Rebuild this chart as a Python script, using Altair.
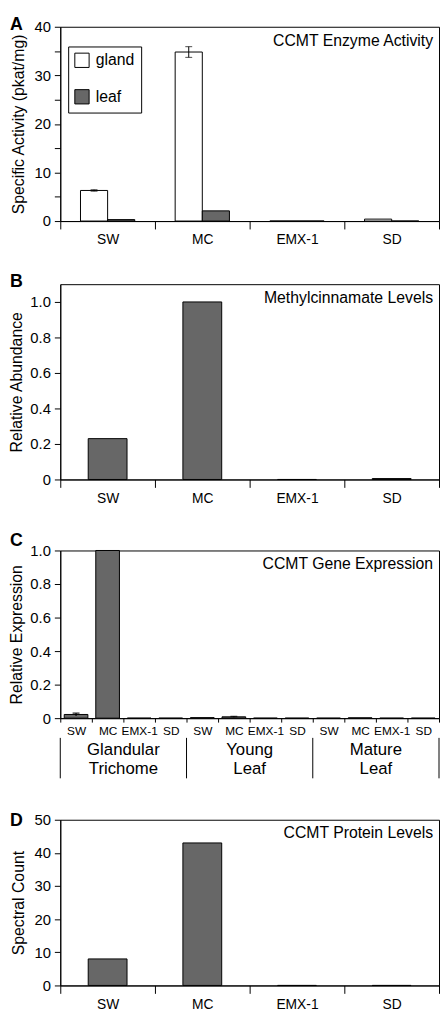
import altair as alt
import pandas as pd

FONT = "Liberation Sans"
W = 384

# ---------------- data ----------------
cats = ["SW", "MC", "EMX-1", "SD"]
tissues = ["gland", "leaf"]

# Panel A: CCMT enzyme activity (pkat/mg)
act_gland = [6.3, 34.8, 0.0, 0.4]
act_leaf = [0.3, 2.1, 0.0, 0.0]
act_gland_err = [0.15, 1.1, 0.0, 0.0]
act_leaf_err = [0.0, 0.0, 0.0, 0.0]

# Panel B: methylcinnamate levels (relative abundance)
mc_levels = [0.23, 1.0, 0.0, 0.005]

# Panel C: CCMT gene expression
group_keys = ["GT", "YL", "ML"]
group_labels = ["Glandular\nTrichome", "Young\nLeaf", "Mature\nLeaf"]
expr_vals = [
    [0.022, 1.0, 0.0, 0.0],
    [0.003, 0.008, 0.0, 0.0],
    [0.0, 0.002, 0.0, 0.0],
]
expr_err = [
    [0.008, 0.0, 0.0, 0.0],
    [0.0, 0.002, 0.0, 0.0],
    [0.0, 0.0, 0.0, 0.0],
]

# Panel D: CCMT protein levels (spectral count)
protein = [8, 43, 0, 0]

GRAY = "#676767"


def letter(txt, top):
    return alt.Chart(pd.DataFrame({"t": [txt]})).mark_text(
        font=FONT, fontSize=18, fontWeight="bold", align="left", baseline="top", color="black"
    ).encode(x=alt.value(-51), y=alt.value(top), text="t:N")


def note(txt):
    return alt.Chart(pd.DataFrame({"t": [txt]})).mark_text(
        font=FONT, fontSize=16, align="right", baseline="alphabetic", color="black"
    ).encode(x=alt.value(W - 6), y=alt.value(19), text="t:N")


def yaxis(title, values, expr, pad):
    return alt.Axis(title=title, values=values, labelExpr=expr, tickSize=6, labelPadding=4,
                    titlePadding=pad, labelFontSize=15, titleFontSize=16, labelOverlap=False)


def xband(field, domain, axis, **kw):
    return alt.X(field, sort=domain, scale=alt.Scale(domain=domain, paddingInner=0, paddingOuter=0),
                 axis=axis, **kw)


xaxis4 = alt.Axis(title=None, labelAngle=0, tickBand="extent", tickSize=8, labelPadding=4, labelFontSize=14)
dec_expr = "datum.value == 0 ? '0' : format(datum.value, '.1f')"
tick_dec = [0, 0.2, 0.4, 0.6, 0.8, 1.0]

# ---------------- Panel A ----------------
dfA = pd.DataFrame({
    "cat": cats * 2,
    "tissue": ["gland"] * 4 + ["leaf"] * 4,
    "val": act_gland + act_leaf,
    "err": act_gland_err + act_leaf_err,
})
dfA["lo"] = dfA["val"] - dfA["err"]
dfA["hi"] = dfA["val"] + dfA["err"]
dfAe = dfA[dfA["err"] > 0]

HA = 197
xA = xband("cat:N", cats, xaxis4)
xoffA = alt.XOffset("tissue:N", sort=tissues, scale=alt.Scale(domain=tissues, paddingOuter=0.745, paddingInner=0))
axA = yaxis("Specific Activity (pkat/mg)", list(range(0, 45, 5)),
            "datum.value % 10 == 0 ? datum.label : ''", 8)
scA = alt.Scale(domain=[0, 40], nice=False)

barsA = alt.Chart(dfA).mark_bar(stroke="black", strokeWidth=1).encode(
    x=xA, xOffset=xoffA, y=alt.Y("val:Q", scale=scA, axis=axA),
    fill=alt.Fill("tissue:N", scale=alt.Scale(domain=tissues, range=["white", GRAY]),
                  legend=alt.Legend(orient="none", legendX=8, legendY=20, title=None,
                                    strokeColor="black", fillColor="white", padding=6,
                                    symbolType="square", symbolSize=210, symbolStrokeColor="black",
                                    symbolStrokeWidth=1, labelFontSize=16, labelFont=FONT,
                                    rowPadding=17, labelOffset=6)),
)
errA = alt.Chart(dfAe).mark_rule(color="black").encode(
    x=xA, xOffset=xoffA, y=alt.Y("lo:Q", scale=scA, axis=axA), y2="hi:Q")
capLoA = alt.Chart(dfAe).mark_tick(color="black", size=7, thickness=1).encode(
    x=xA, xOffset=xoffA, y=alt.Y("lo:Q", scale=scA, axis=axA))
capHiA = alt.Chart(dfAe).mark_tick(color="black", size=7, thickness=1).encode(
    x=xA, xOffset=xoffA, y=alt.Y("hi:Q", scale=scA, axis=axA))

panelA = alt.layer(barsA, errA, capLoA, capHiA, note("CCMT Enzyme Activity"), letter("A", -11)).properties(
    width=W, height=HA)

# ---------------- Panel B ----------------
dfB = pd.DataFrame({"cat": cats, "val": mc_levels})
HB = 198
barsB = alt.Chart(dfB).mark_bar(stroke="black", strokeWidth=1, fill=GRAY,
                                width=alt.RelativeBandSize(0.41)).encode(
    x=xband("cat:N", cats, xaxis4),
    y=alt.Y("val:Q", scale=alt.Scale(domain=[0, 1.1], nice=False),
            axis=yaxis("Relative Abundance", tick_dec, dec_expr, 5)),
)
panelB = alt.layer(barsB, note("Methylcinnamate Levels"), letter("B", -11)).properties(width=W, height=HB)

# ---------------- Panel C ----------------
keys = [f"{g}|{c}" for g in group_keys for c in cats]
dfC = pd.DataFrame({
    "key": keys,
    "val": [v for row in expr_vals for v in row],
    "err": [e for row in expr_err for e in row],
})
dfC["lo"] = dfC["val"] - dfC["err"]
dfC["hi"] = dfC["val"] + dfC["err"]
dfCe = dfC[dfC["err"] > 0]
HC = 170

xaxisC = alt.Axis(title=None, labelAngle=0, tickBand="extent", tickSize=4, labelPadding=4,
                  labelFontSize=12, labelOverlap=False,
                  labelExpr="split(datum.value, '|')[1]")
xC = xband("key:N", keys, xaxisC)
axC = yaxis("Relative Expression", tick_dec, dec_expr, 5)
scC = alt.Scale(domain=[0, 1.0], nice=False)

barsC = alt.Chart(dfC).mark_bar(stroke="black", strokeWidth=1, fill=GRAY,
                                width=alt.RelativeBandSize(0.75)).encode(
    x=xC, y=alt.Y("val:Q", scale=scC, axis=axC))
errC = alt.Chart(dfCe).mark_rule(color="black", strokeWidth=1.5).encode(
    x=xC, y=alt.Y("lo:Q", scale=scC, axis=axC), y2="hi:Q")
capC = alt.Chart(dfCe).mark_tick(color="black", size=7, thickness=1.5).encode(
    x=xC, y=alt.Y("hi:Q", scale=scC, axis=axC))

sep_start = pd.DataFrame({"key": [f"{g}|SW" for g in group_keys]})
sep_end = pd.DataFrame({"key": [f"{group_keys[-1]}|SD"]})
sepA = alt.Chart(sep_start).mark_rule(color="black").encode(
    x=xband("key:N", keys, xaxisC, bandPosition=0),
    y=alt.value(HC + 20), y2=alt.value(HC + 61))
sepB = alt.Chart(sep_end).mark_rule(color="black").encode(
    x=xband("key:N", keys, xaxisC, bandPosition=1),
    y=alt.value(HC + 20), y2=alt.value(HC + 61))
dfG = pd.DataFrame({"key": [f"{g}|MC" for g in group_keys], "label": group_labels})
groupText = alt.Chart(dfG).mark_text(font=FONT, fontSize=17, align="center", baseline="alphabetic",
                                     lineBreak="\n", lineHeight=20, color="black").encode(
    x=xband("key:N", keys, xaxisC, bandPosition=1),
    y=alt.value(HC + 37), text="label:N")

panelC = alt.layer(barsC, errC, capC, sepA, sepB, groupText, note("CCMT Gene Expression"),
                   letter("C", -19)).properties(width=W, height=HC)

# ---------------- Panel D ----------------
dfD = pd.DataFrame({"cat": cats, "val": protein})
HD = 168
barsD = alt.Chart(dfD).mark_bar(stroke="black", strokeWidth=1, fill=GRAY,
                                width=alt.RelativeBandSize(0.41)).encode(
    x=xband("cat:N", cats, xaxis4),
    y=alt.Y("val:Q", scale=alt.Scale(domain=[0, 50], nice=False),
            axis=yaxis("Spectral Count", [0, 10, 20, 30, 40, 50], "datum.label", 8)),
)
panelD = alt.layer(barsD, note("CCMT Protein Levels"), letter("D", -8)).properties(width=W, height=HD)

top3 = alt.vconcat(panelA, panelB, panelC, spacing=25)
chart = alt.vconcat(top3, panelD, spacing=32).properties(
    padding={"left": 0, "top": 0, "right": 0, "bottom": 0}
).configure_axis(
    labelFont=FONT, titleFont=FONT, labelColor="black", titleColor="black",
    domainColor="black", tickColor="black", grid=False, titleFontWeight="normal",
).configure_view(stroke="black", strokeWidth=1).configure_legend(labelColor="black")

chart.save("out.html", embed_options={"renderer": "svg", "actions": False})
